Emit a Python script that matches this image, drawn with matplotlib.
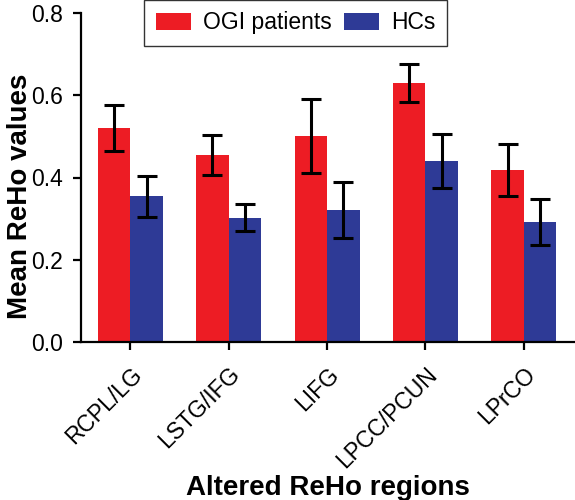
import numpy as np
import matplotlib
matplotlib.use('Agg')
import matplotlib.pyplot as plt

plt.rcParams['font.family'] = ['Liberation Sans', 'DejaVu Sans']

# Data
regions = ['RCPL/LG', 'LSTG/IFG', 'LIFG', 'LPCC/PCUN', 'LPrCO']
ogi_mean = [0.521, 0.455, 0.500, 0.629, 0.418]
ogi_err = [0.056, 0.048, 0.090, 0.046, 0.064]
hc_mean = [0.354, 0.302, 0.321, 0.440, 0.292]
hc_err = [0.049, 0.033, 0.069, 0.065, 0.055]

red = '#ED1C24'
blue = '#2E3A96'

fig = plt.figure(figsize=(5.75, 5), dpi=100)
ax = fig.add_axes([0.141, 0.316, 0.859, 0.658])

x = np.arange(len(regions))
w = 0.33
err_kw = dict(ecolor='black', elinewidth=2.2, capsize=7, capthick=2.2)
ax.bar(x - w / 2, ogi_mean, w, yerr=ogi_err, color=red, label='OGI patients', error_kw=err_kw)
ax.bar(x + w / 2, hc_mean, w, yerr=hc_err, color=blue, label='HCs', error_kw=err_kw)

ax.set_xlim(-0.5, 4.52)
ax.set_ylim(0, 0.8)
ax.set_yticks([0.0, 0.2, 0.4, 0.6, 0.8])
ax.set_yticklabels(['0.0', '0.2', '0.4', '0.6', '0.8'])
ax.set_xticks(x)
ax.set_xticklabels(regions, rotation=45, ha='right', rotation_mode='anchor')

for s in ['top', 'right']:
    ax.spines[s].set_visible(False)
for s in ['left', 'bottom']:
    ax.spines[s].set_linewidth(1.6)
ax.tick_params(axis='both', direction='out', length=6, width=1.6, labelsize=16.5, colors='black')
ax.tick_params(axis='x', pad=9)
ax.tick_params(axis='y', pad=7)

ax.set_ylabel('Mean ReHo values', fontsize=20, fontweight='bold')
ax.yaxis.set_label_coords(-0.097, 0.444)
ax.set_xlabel('Altered ReHo regions', fontsize=20, fontweight='bold', labelpad=2)

leg = ax.legend(loc='upper center', bbox_to_anchor=(0.434, 1.04), ncol=2, fontsize=16.5,
                frameon=True, fancybox=False, edgecolor='black', handlelength=1.55,
                handleheight=0.8, handletextpad=0.5, columnspacing=0.55, borderpad=0.5,
                borderaxespad=0)
leg.get_frame().set_linewidth(1.0)

fig.savefig('out.png', dpi=100)
